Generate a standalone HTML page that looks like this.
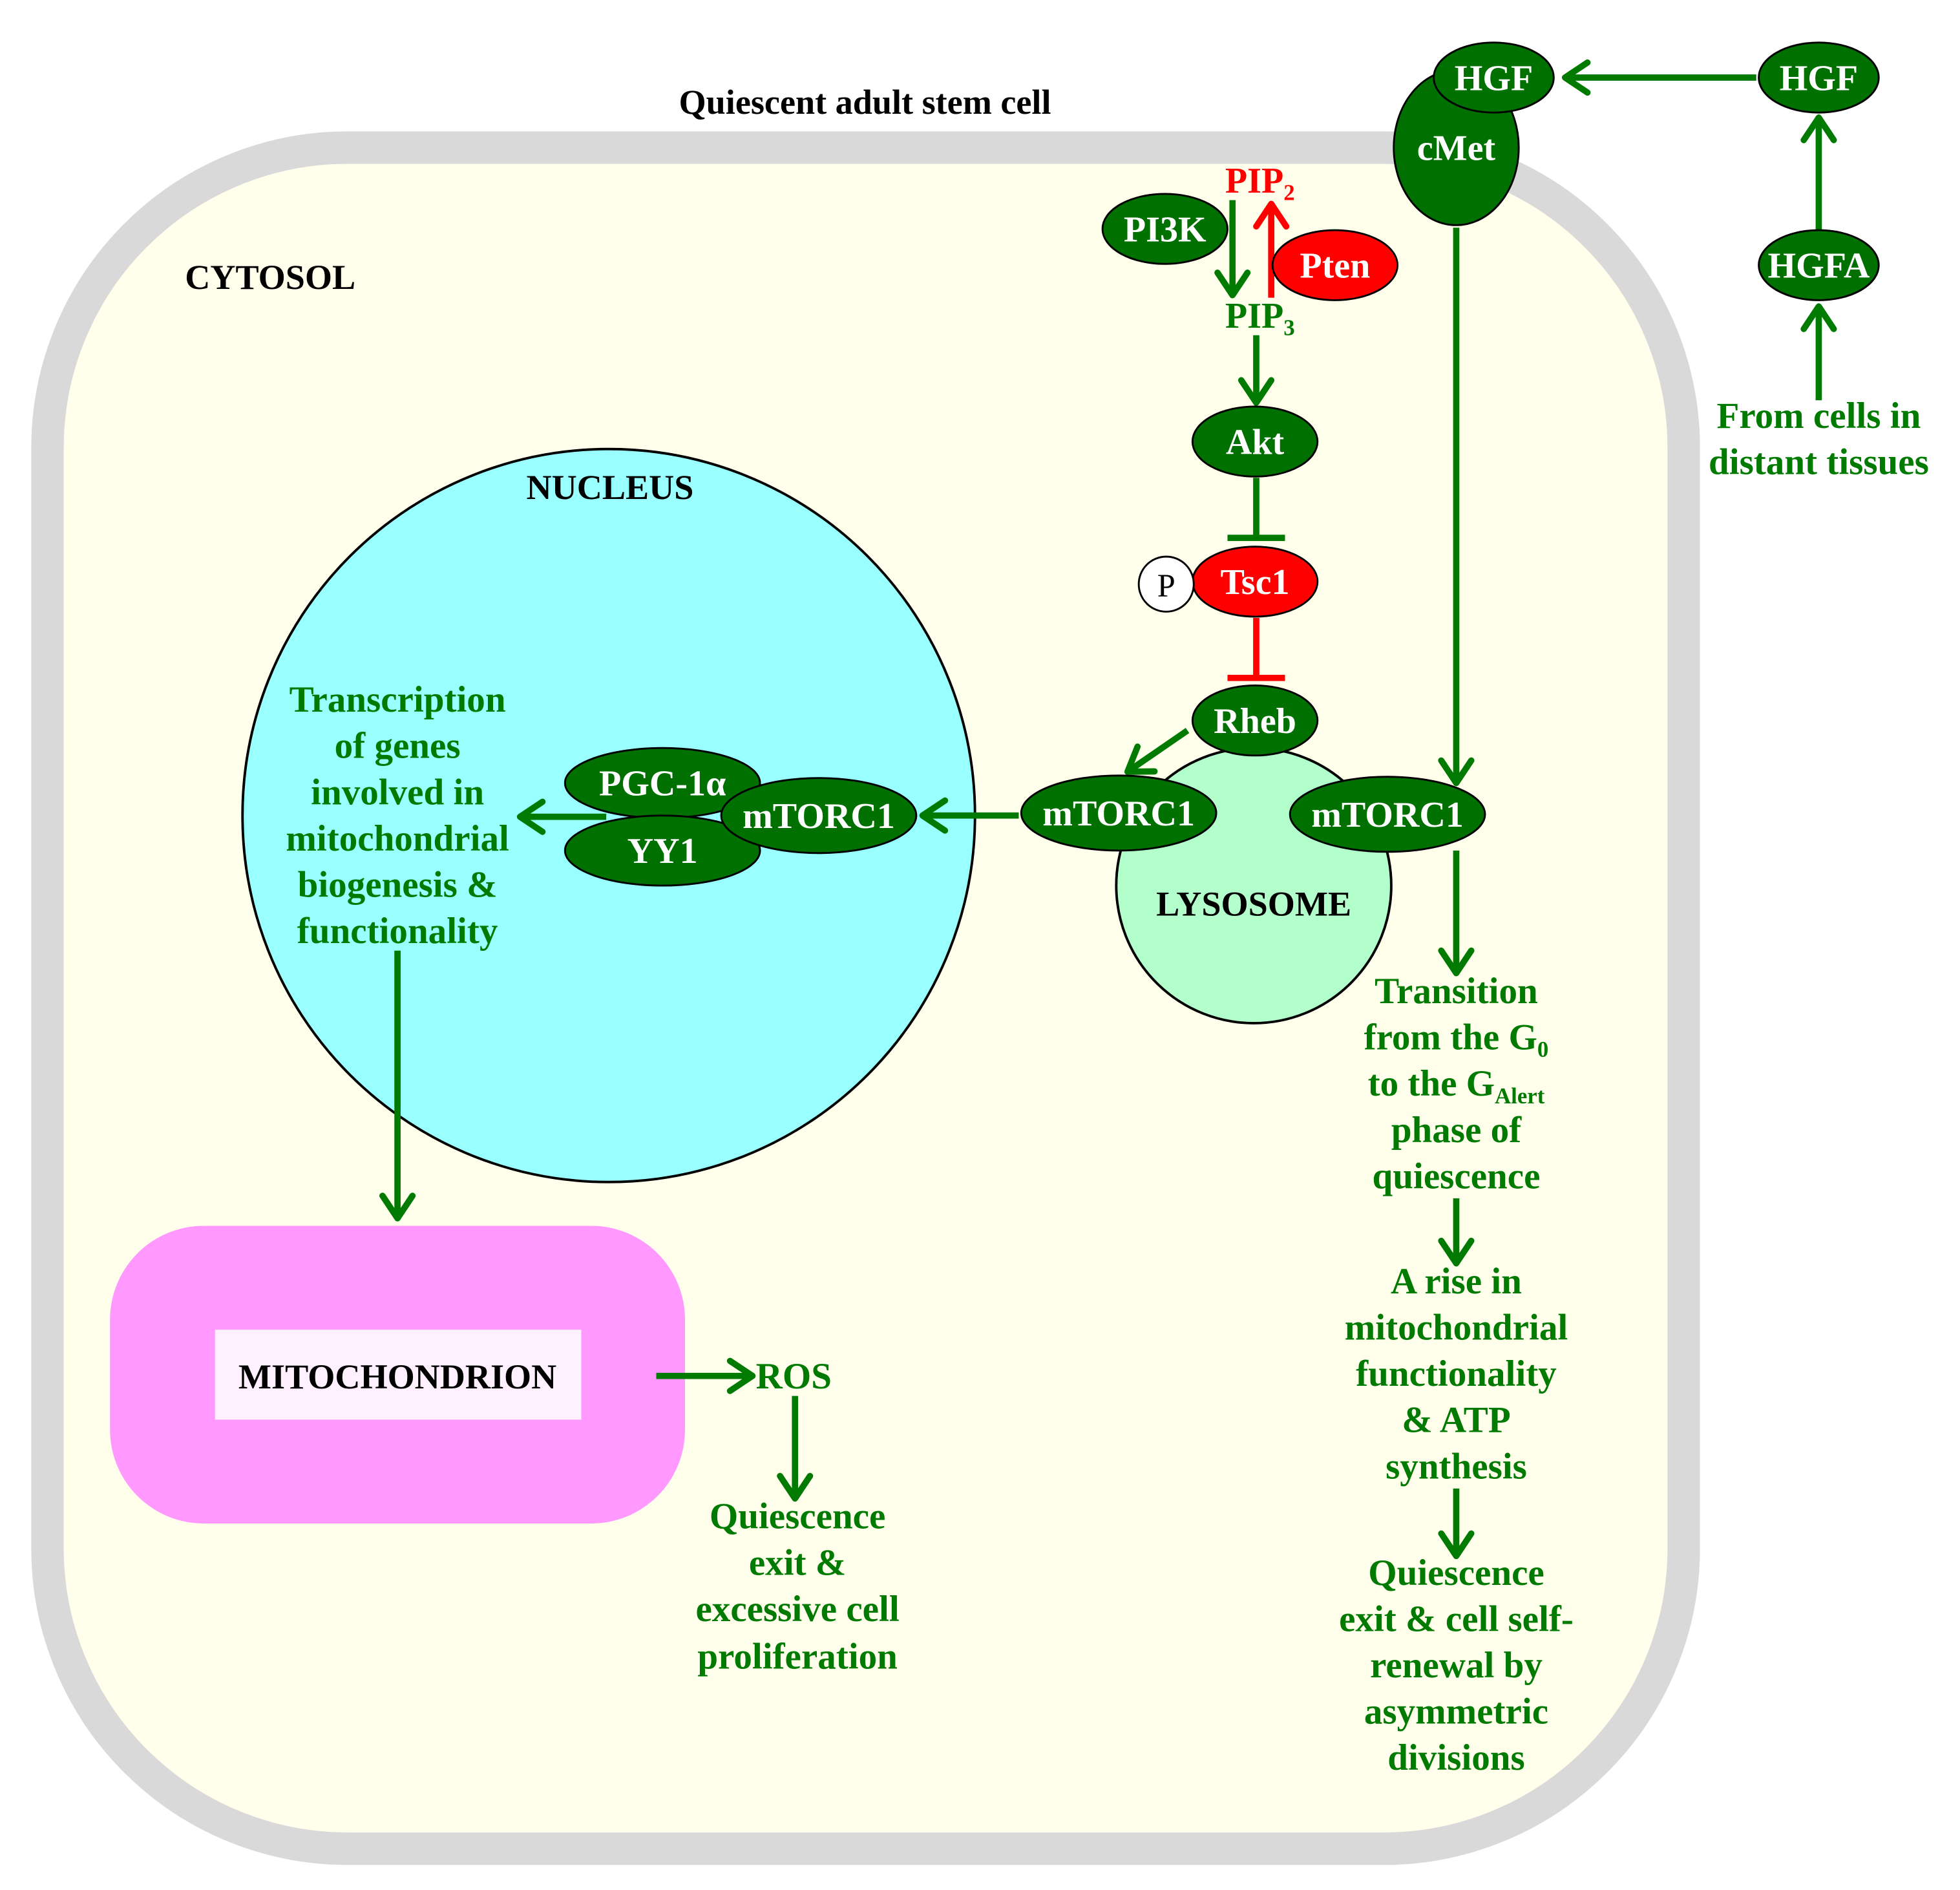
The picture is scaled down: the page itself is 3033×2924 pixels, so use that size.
<!DOCTYPE html>
<html><head><meta charset="utf-8"><style>html,body{margin:0;padding:0;background:#fff}svg{display:block}svg text{font-family:"Liberation Serif","Times New Roman",serif;font-weight:bold}</style></head><body>
<svg width="3033" height="2924" viewBox="0 0 1568 1511" preserveAspectRatio="none" xmlns="http://www.w3.org/2000/svg">
<defs>
<marker id="ag" markerWidth="6" markerHeight="6" refX="4.6" refY="3" orient="auto" markerUnits="strokeWidth"><polyline points="1,0.6 4.6,3 1,5.4" fill="none" stroke="#007a00" stroke-width="1" stroke-linecap="round" stroke-linejoin="round"/></marker>
<marker id="ar" markerWidth="6" markerHeight="6" refX="4.6" refY="3" orient="auto" markerUnits="strokeWidth"><polyline points="1,0.6 4.6,3 1,5.4" fill="none" stroke="#ff0000" stroke-width="1" stroke-linecap="round" stroke-linejoin="round"/></marker>
</defs>
<rect x="38" y="118" width="1309" height="1360" rx="240" fill="#ffffeb" stroke="#d9d9d9" stroke-width="26"/>
<text x="692" y="91" font-size="28" text-anchor="middle" fill="#000">Quiescent adult stem cell</text>
<text x="148" y="231" font-size="28" fill="#000">CYTOSOL</text>
<circle cx="487" cy="652" r="293" fill="#99ffff" stroke="#000" stroke-width="2"/>
<text x="488" y="399" font-size="28" text-anchor="middle" fill="#000">NUCLEUS</text>
<circle cx="1003" cy="708" r="110" fill="#b3ffcc" stroke="#000" stroke-width="2"/>
<text x="1003" y="732" font-size="28" text-anchor="middle" fill="#000">LYSOSOME</text>
<rect x="88" y="980" width="460" height="238" rx="75" fill="#ff99ff"/>
<rect x="172" y="1063" width="293" height="72" fill="#fff0ff"/>
<text x="318" y="1110" font-size="28" text-anchor="middle" fill="#000">MITOCHONDRION</text>

<g stroke="#007a00" stroke-width="5" fill="none" marker-end="url(#ag)">
<line x1="1405" y1="62" x2="1252" y2="62"/>
<line x1="1455" y1="184" x2="1455" y2="94"/>
<line x1="1455" y1="320" x2="1455" y2="245"/>
<line x1="1165" y1="182" x2="1165" y2="626"/>
<line x1="1165" y1="680" x2="1165" y2="778"/>
<line x1="986" y1="160" x2="986" y2="236"/>
<line x1="1005" y1="268" x2="1005" y2="322"/>
<line x1="950" y1="584" x2="902" y2="617"/>
<line x1="815" y1="652" x2="738" y2="652"/>
<line x1="485" y1="653" x2="416" y2="653"/>
<line x1="318" y1="760" x2="318" y2="974"/>
<line x1="525" y1="1100" x2="602" y2="1100"/>
<line x1="636" y1="1116" x2="636" y2="1198"/>
<line x1="1165" y1="958" x2="1165" y2="1010"/>
<line x1="1165" y1="1190" x2="1165" y2="1244"/>
</g>
<line x1="1017" y1="238" x2="1017" y2="163" stroke="#ff0000" stroke-width="5" marker-end="url(#ar)"/>
<g stroke="#007a00" stroke-width="5"><line x1="1005" y1="382" x2="1005" y2="430"/><line x1="982" y1="430" x2="1028" y2="430"/></g>
<g stroke="#ff0000" stroke-width="5"><line x1="1005" y1="494" x2="1005" y2="542"/><line x1="982" y1="542" x2="1028" y2="542"/></g>

<g stroke="#000" stroke-width="1.5" fill="#007000">
<ellipse cx="1165" cy="118" rx="50" ry="62"/>
<ellipse cx="1195" cy="62" rx="48" ry="28"/>
<ellipse cx="1455" cy="62" rx="48" ry="28"/>
<ellipse cx="1455" cy="212" rx="48" ry="28"/>
<ellipse cx="932" cy="183" rx="50" ry="28"/>
<ellipse cx="1068" cy="212" rx="50" ry="28" fill="#ff0000"/>
<ellipse cx="1004" cy="353" rx="50" ry="28"/>
<ellipse cx="1004" cy="465" rx="50" ry="28" fill="#ff0000"/>
<circle cx="933" cy="467" r="22" fill="#fff"/>
<ellipse cx="1004" cy="576" rx="50" ry="28"/>
<ellipse cx="895" cy="650" rx="78" ry="30"/>
<ellipse cx="1110" cy="651" rx="78" ry="30"/>
<ellipse cx="530" cy="626" rx="78" ry="28"/>
<ellipse cx="530" cy="680" rx="78" ry="28"/>
<ellipse cx="655" cy="652" rx="78" ry="30"/>
</g>
<g fill="#fff" font-size="29" text-anchor="middle">
<text x="1165" y="128">cMet</text>
<text x="1195" y="72">HGF</text>
<text x="1455" y="72">HGF</text>
<text x="1455" y="222">HGFA</text>
<text x="932" y="193">PI3K</text>
<text x="1068" y="222">Pten</text>
<text x="1004" y="363">Akt</text>
<text x="1004" y="475">Tsc1</text>
<text x="1004" y="586">Rheb</text>
<text x="895" y="660">mTORC1</text>
<text x="1110" y="661">mTORC1</text>
<text x="530" y="636">PGC-1α</text>
<text x="530" y="690">YY1</text>
<text x="655" y="662">mTORC1</text>
</g>
<text x="933" y="477" font-size="26" style="font-weight:normal" text-anchor="middle" fill="#000">P</text>
<text x="1008" y="154" font-size="29" text-anchor="middle" fill="#ff0000">PIP<tspan font-size="18" dy="6">2</tspan></text>
<text x="1008" y="262" font-size="29" text-anchor="middle" fill="#007a00">PIP<tspan font-size="18" dy="6">3</tspan></text>
<g fill="#007a00" font-size="29.5" text-anchor="middle">
<text x="1455" y="342">From cells in</text><text x="1455" y="379">distant tissues</text>
<text x="318" y="569">Transcription</text><text x="318" y="606">of genes</text><text x="318" y="643">involved in</text><text x="318" y="680">mitochondrial</text><text x="318" y="717">biogenesis &amp;</text><text x="318" y="754">functionality</text>
<text x="635" y="1110">ROS</text>
<text x="638" y="1222">Quiescence</text><text x="638" y="1259">exit &amp;</text><text x="638" y="1296">excessive cell</text><text x="638" y="1334">proliferation</text>
<text x="1165" y="802">Transition</text>
<text x="1165" y="839">from the G<tspan font-size="18" dy="6">0</tspan></text>
<text x="1165" y="876">to the G<tspan font-size="18" dy="6">Alert</tspan></text>
<text x="1165" y="913">phase of</text><text x="1165" y="950">quiescence</text>
<text x="1165" y="1034">A rise in</text><text x="1165" y="1071">mitochondrial</text><text x="1165" y="1108">functionality</text><text x="1165" y="1145">&amp; ATP</text><text x="1165" y="1182">synthesis</text>
<text x="1165" y="1267">Quiescence</text><text x="1165" y="1304">exit &amp; cell self-</text><text x="1165" y="1341">renewal by</text><text x="1165" y="1378">asymmetric</text><text x="1165" y="1415">divisions</text>
</g>
</svg>
</body></html>
